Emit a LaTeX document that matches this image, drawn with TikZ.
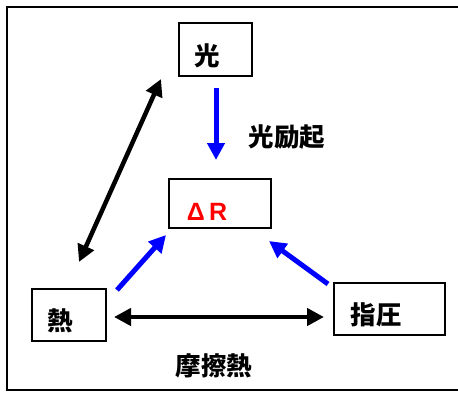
\documentclass[tikz,border=0pt]{standalone}
\usepackage{fontspec}
\setmainfont{Liberation Sans}
\newfontfamily\cjk{Noto Sans CJK JP}
\usetikzlibrary{arrows.meta}
\begin{document}
\begin{tikzpicture}[x=1pt,y=-1pt,
  box/.style={draw=black,line width=1.5pt,inner sep=0pt,rectangle},
  jp/.style={font=\cjk\bfseries\fontsize{25.5}{25.5}\selectfont,inner sep=0pt},
  bluearr/.style={draw=blue,line width=5pt,-{Triangle[length=17pt,width=17pt]}},
  blackarr/.style={draw=black,line width=4.5pt,{Triangle[length=17pt,width=17pt]}-{Triangle[length=17pt,width=17pt]}}]
\useasboundingbox (0,0) rectangle (458,392);
\clip (0,0) rectangle (458,392);
\draw[line width=2pt] (7,7) rectangle (470,390);
% boxes
\node[box,minimum width=73pt,minimum height=53pt] (g) at (215.5,49.5) {};
\node[box,minimum width=102pt,minimum height=49pt] (dr) at (220,203.5) {};
\node[box,minimum width=74pt,minimum height=52pt] (h) at (69,315) {};
\node[box,minimum width=111pt,minimum height=52pt] (s) at (389.5,309) {};
% texts
\node[jp] (gt) at (207,56) {光};
\node[inner sep=0pt,text=red,font=\bfseries\fontsize{25}{25}\selectfont] (drt) at (207,212) {Δ\,R};
\node[jp] (ht) at (60,321) {熱};
\node[jp] (st) at (376,315) {指圧};
\node[jp] (lex) at (287,137) {光励起};
\node[jp] (lfr) at (214,366) {摩擦熱};
% connector end points
\coordinate (a1) at (216,88);
\coordinate (a2) at (216,160);
\coordinate (b1) at (79,262);
\coordinate (b2) at (161,79);
\coordinate (c1) at (117,290);
\coordinate (c2) at (166,235);
\coordinate (d1) at (328,284);
\coordinate (d2) at (269,241);
\coordinate (e1) at (114,317);
\coordinate (e2) at (324,317);
% arrows
\draw[bluearr] (a1) -- (a2);
\draw[bluearr] (c1) -- (c2);
\draw[bluearr] (d1) -- (d2);
\draw[blackarr] (b1) -- (b2);
\draw[blackarr] (e1) -- (e2);
\end{tikzpicture}
\end{document}
